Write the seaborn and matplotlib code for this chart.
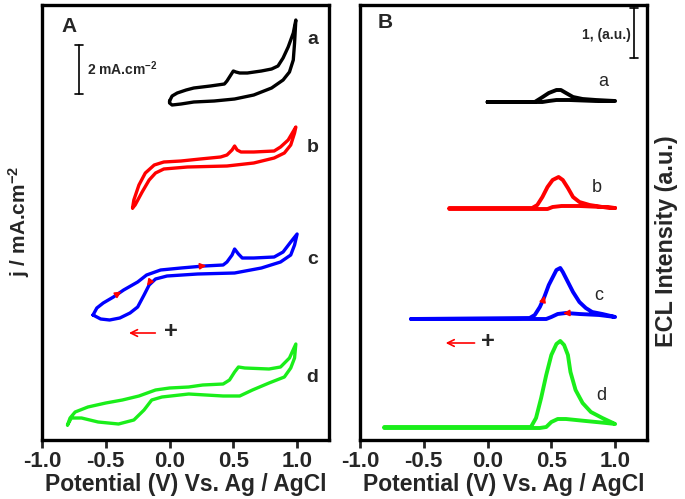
import seaborn as sns
import matplotlib.pyplot as plt

# Panel A: cyclic voltammograms (heights in arbitrary offset units, curves stacked)
cv_a_up_v = [0.0, 0.02, 0.06, 0.13, 0.19, 0.32, 0.43, 0.45, 0.48, 0.50, 0.52, 0.55, 0.61, 0.72, 0.80, 0.85, 0.89, 0.93, 0.97, 0.99]
cv_a_up_j = [339, 344, 347, 350, 352, 354, 356, 359, 365, 369, 368, 367, 367, 369, 371, 374, 382, 393, 407, 420]
cv_a_dn_v = [0.99, 0.98, 0.97, 0.94, 0.89, 0.80, 0.66, 0.51, 0.35, 0.19, 0.09, 0.02, 0.0, 0.0]
cv_a_dn_j = [420, 397, 380, 368, 360, 352, 345, 341, 339, 338, 336, 335, 337, 339]

cv_b_up_v = [-0.29, -0.28, -0.24, -0.19, -0.12, -0.045, 0.09, 0.24, 0.40, 0.45, 0.49, 0.51, 0.53, 0.56, 0.66, 0.82, 0.87, 0.93, 0.99]
cv_b_up_j = [232, 240, 255, 267, 275, 278, 279, 281, 283, 285, 290, 294, 290, 288, 288, 289, 293, 300, 313]
cv_b_dn_v = [0.99, 0.98, 0.95, 0.90, 0.82, 0.66, 0.45, 0.14, -0.045, -0.11, -0.16, -0.215, -0.27, -0.29]
cv_b_dn_j = [313, 307, 295, 287, 282, 277, 274, 273, 271, 267, 260, 248, 235, 232]

cv_c_up_v = [-0.60, -0.57, -0.52, -0.44, -0.36, -0.25, -0.18, -0.07, 0.09, 0.27, 0.42, 0.45, 0.49, 0.51, 0.54, 0.57, 0.66, 0.82, 0.89, 0.95, 1.0]
cv_c_up_j = [125, 132, 137, 143, 150, 158, 165, 170, 172, 174, 175, 178, 185, 191, 186, 182, 182, 183, 188, 198, 206]
cv_c_dn_v = [1.0, 0.98, 0.95, 0.87, 0.72, 0.51, 0.22, -0.02, -0.11, -0.16, -0.20, -0.25, -0.31, -0.39, -0.47, -0.54, -0.60]
cv_c_dn_j = [206, 195, 185, 178, 172, 167, 166, 164, 161, 155, 145, 133, 127, 122, 120, 121, 125]

cv_d_up_v = [-0.80, -0.78, -0.74, -0.64, -0.50, -0.37, -0.24, -0.11, 0.0, 0.15, 0.26, 0.42, 0.47, 0.51, 0.54, 0.59, 0.78, 0.87, 0.94, 0.99]
cv_d_up_j = [15, 22, 28, 33, 37, 40, 44, 50, 52, 53, 55, 56, 60, 68, 73, 72, 71, 73, 82, 96]
cv_d_dn_v = [0.99, 0.98, 0.95, 0.90, 0.78, 0.65, 0.55, 0.42, 0.15, -0.06, -0.14, -0.20, -0.28, -0.40, -0.56, -0.69, -0.77, -0.80]
cv_d_dn_j = [96, 82, 72, 63, 57, 50, 44, 44, 46, 43, 40, 30, 20, 16, 18, 22, 22, 15]

# Panel B: ECL intensity (forward scan carries the peak)
ecl_a_fw_v = [0.0, 0.37, 0.42, 0.48, 0.54, 0.575, 0.615, 0.67, 0.745, 0.85, 1.0]
ecl_a_fw_i = [338, 338, 342, 347, 350, 350, 347, 343, 341, 340, 339]
ecl_a_rv_v = [1.0, 0.85, 0.64, 0.54, 0.48, 0.43, 0.0]
ecl_a_rv_i = [339, 339, 340, 340, 339, 338, 338]

ecl_b_fw_v = [-0.30, 0.35, 0.39, 0.43, 0.47, 0.51, 0.557, 0.59, 0.63, 0.67, 0.72, 0.80, 0.90, 1.0]
ecl_b_fw_i = [232, 232, 235, 243, 253, 260, 263, 260, 252, 243, 238, 235, 233, 232]
ecl_b_rv_v = [1.0, 0.90, 0.72, 0.58, 0.51, 0.47, 0.40, -0.30]
ecl_b_rv_i = [232, 233, 234, 234, 233, 231, 231, 231]

ecl_c_fw_v = [-0.60, 0.33, 0.37, 0.41, 0.445, 0.48, 0.52, 0.54, 0.57, 0.59, 0.63, 0.67, 0.72, 0.77, 0.82, 0.90, 1.0]
ecl_c_fw_i = [121, 122, 125, 133, 143, 155, 165, 170, 172, 168, 158, 148, 138, 132, 128, 126, 123]
ecl_c_rv_v = [1.0, 0.875, 0.72, 0.615, 0.55, 0.50, 0.46, 0.33, -0.60]
ecl_c_rv_i = [123, 125, 126, 127, 126, 123, 121, 121, 121]

ecl_d_fw_v = [-0.81, 0.34, 0.38, 0.42, 0.46, 0.50, 0.54, 0.57, 0.60, 0.63, 0.65, 0.69, 0.745, 0.81, 0.90, 1.0]
ecl_d_fw_i = [13, 13, 22, 42, 65, 85, 96, 99, 95, 85, 68, 50, 37, 28, 22, 16]
ecl_d_rv_v = [1.0, 0.93, 0.77, 0.615, 0.55, 0.50, 0.46, 0.41, -0.81]
ecl_d_rv_i = [16, 17, 19, 21, 21, 18, 13, 12, 12]

labels = ['a', 'b', 'c', 'd']
colors = ['black', 'red', 'blue', '#1aee1a']
xticks = [-1.0, -0.5, 0.0, 0.5, 1.0]

sns.set_style('white')
plt.rcParams['font.family'] = ['Liberation Sans', 'DejaVu Sans']
plt.rcParams['font.weight'] = 'bold'
plt.rcParams['mathtext.fontset'] = 'custom'
plt.rcParams['mathtext.rm'] = 'Liberation Sans:bold'
plt.rcParams['mathtext.bf'] = 'Liberation Sans:bold'
plt.rcParams['mathtext.default'] = 'rm'

fig = plt.figure(figsize=(6.85, 4.99), dpi=100)
axA = fig.add_axes([42 / 685, 1 - 440 / 499, 287 / 685, 435 / 499])
axB = fig.add_axes([360 / 685, 1 - 440 / 499, 287 / 685, 435 / 499])

cv = [(cv_a_up_v + cv_a_dn_v, cv_a_up_j + cv_a_dn_j),
      (cv_b_up_v + cv_b_dn_v, cv_b_up_j + cv_b_dn_j),
      (cv_c_up_v + cv_c_dn_v, cv_c_up_j + cv_c_dn_j),
      (cv_d_up_v + cv_d_dn_v, cv_d_up_j + cv_d_dn_j)]
ecl = [(ecl_a_fw_v + ecl_a_rv_v, ecl_a_fw_i + ecl_a_rv_i),
       (ecl_b_fw_v + ecl_b_rv_v, ecl_b_fw_i + ecl_b_rv_i),
       (ecl_c_fw_v + ecl_c_rv_v, ecl_c_fw_i + ecl_c_rv_i),
       (ecl_d_fw_v + ecl_d_rv_v, ecl_d_fw_i + ecl_d_rv_i)]

for (x, y), c in zip(cv, colors):
    sns.lineplot(x=x, y=y, ax=axA, sort=False, estimator=None, color=c, lw=2.4,
                 solid_joinstyle='round', solid_capstyle='round')
for (x, y), c in zip(ecl, colors):
    sns.lineplot(x=x, y=y, ax=axB, sort=False, estimator=None, color=c, lw=2.8,
                 solid_joinstyle='round', solid_capstyle='round')

# curve labels
for lab, yy in zip(labels, [400, 292, 181, 63]):
    axA.text(1.12, yy, lab, fontsize=14, fontweight='bold', ha='center', va='center')
for lab, xx, yy in zip(labels, [0.91, 0.86, 0.875, 0.89], [358, 252, 145, 45]):
    axB.text(xx, yy, lab, fontsize=13, ha='center', va='center', fontweight='normal')

# direction arrows on curve c
arr = dict(arrowstyle='-|>', color='red', lw=1.2, mutation_scale=9)
axA.annotate('', xy=(-0.36, 150), xytext=(-0.42, 145), arrowprops=arr)
axA.annotate('', xy=(-0.19, 152), xytext=(-0.15, 159), arrowprops=arr)
axA.annotate('', xy=(0.31, 174.5), xytext=(0.24, 173.8), arrowprops=arr)
axB.annotate('', xy=(0.455, 147), xytext=(0.43, 137), arrowprops=arr)
axB.annotate('', xy=(0.57, 126.5), xytext=(0.64, 127), arrowprops=arr)

# scan direction marks
thin = dict(arrowstyle='->', color='red', lw=1.2, mutation_scale=12)
axA.annotate('', xy=(-0.34, 107), xytext=(-0.09, 107), arrowprops=thin)
axA.text(0.01, 108, '+', fontsize=17, fontweight='bold', ha='center', va='center')
axB.annotate('', xy=(-0.35, 97), xytext=(-0.08, 97), arrowprops=thin)
axB.text(0.0, 99, '+', fontsize=17, fontweight='bold', ha='center', va='center')

# scale bars
axA.plot([-0.71, -0.71], [346, 395], color='black', lw=1.2)
axA.plot([-0.74, -0.68], [395, 395], color='black', lw=1.2)
axA.plot([-0.74, -0.68], [346, 346], color='black', lw=1.2)
axA.text(-0.65, 371, '2 mA.cm$^{-2}$', fontsize=10, fontweight='bold', va='center')
axB.plot([1.15, 1.15], [382, 432], color='black', lw=1.2)
axB.plot([1.12, 1.18], [432, 432], color='black', lw=1.2)
axB.plot([1.12, 1.18], [382, 382], color='black', lw=1.2)
axB.text(1.12, 405, '1, (a.u.)', fontsize=10, fontweight='bold', ha='right', va='center')

axA.text(-0.85, 413, 'A', fontsize=15, fontweight='bold', va='center')
axB.text(-0.86, 418, 'B', fontsize=15, fontweight='bold', va='center')

for ax in (axA, axB):
    ax.set_xlim(-1.0, 1.25)
    ax.set_ylim(0, 435)
    ax.set_xticks(xticks)
    ax.set_xticklabels(['%.1f' % t for t in xticks])
    ax.set_yticks([])
    ax.tick_params(axis='x', direction='out', length=6, width=2, labelsize=16, pad=2,
                   bottom=True)
    for s in ax.spines.values():
        s.set_linewidth(2.4)
        s.set_color('black')
    ax.set_xlabel('Potential (V) Vs. Ag / AgCl', fontsize=16.5, fontweight='bold', labelpad=1)
    ax.set_ylabel('')

fig.text(19 / 685, 1 - 221 / 499, 'j / mA.cm$^{-2}$', rotation=90, fontsize=15,
         fontweight='bold', ha='center', va='center')
fig.text(666 / 685, 1 - 241 / 499, 'ECL Intensity (a.u.)', rotation=90, fontsize=16.8,
         fontweight='bold', ha='center', va='center')

fig.savefig('out.png', dpi=100)
